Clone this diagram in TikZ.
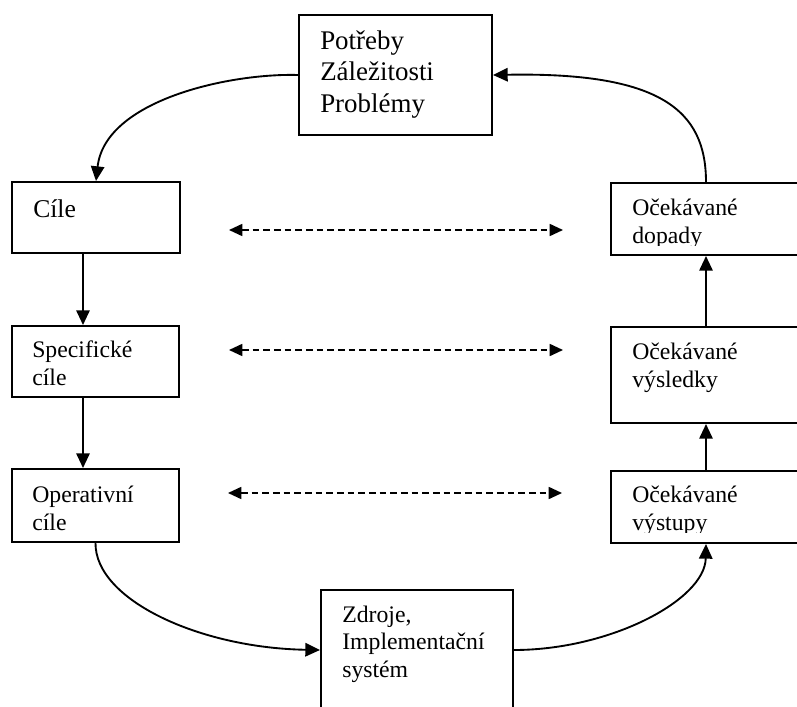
\documentclass[tikz,border=0pt]{standalone}
\usepackage{fontspec}
\setmainfont{Liberation Serif}
\usetikzlibrary{arrows.meta,fit}
\begin{document}
\begin{tikzpicture}[x=0.75pt,y=-0.75pt,
  box/.style={draw, line width=1.5pt, inner sep=0pt},
  txt/.style={anchor=base west, align=left, inner sep=0pt,
              font=\fontsize{17.8}{20.3}\selectfont},
  bigtxt/.style={txt, font=\fontsize{20.2}{23.3}\selectfont},
  arr/.style={-{Triangle[length=11pt,width=10pt]}, line width=1.4pt},
  darr/.style={{Triangle[length=10pt,width=9pt]}-{Triangle[length=10pt,width=9pt]},
               dash pattern=on 5pt off 3pt, line width=1.3pt}]
  \useasboundingbox (0,0) rectangle (797,707);
  \clip (0,0) rectangle (797,707);

  % boxes
  \node[box, fit={(299,15) (492,135)}] (need) {};
  \node[box, fit={(12,182) (180,253)}] (cile) {};
  \node[box, fit={(12,326) (179,397)}] (spec) {};
  \node[box, fit={(12,469) (179,542)}] (oper) {};
  \node[box, fit={(611,183) (801,255)}] (dopady) {};
  \node[box, fit={(611,327) (801,423)}] (vysl) {};
  \node[box, fit={(611,471) (801,543)}] (vystupy) {};
  \node[box, fit={(321,590) (513,710)}] (zdroje) {};

  % box texts (anchored at the baseline of their last line)
  \node[bigtxt] (needT) at (320,112) {Potřeby\\Záležitosti\\Problémy};
  \node[txt, font=\fontsize{19.2}{22}\selectfont] (cileT) at (33,217) {Cíle};
  \node[txt] (specT) at (32,385) {Specifické\\cíle};
  \node[txt] (operT) at (32,530) {Operativní\\cíle};
  \node[txt] (vyslT) at (632,387) {Očekávané\\výsledky};
  \node[txt] (zdrojeT) at (342,677) {Zdroje,\\Implementační\\systém};
  \begin{scope}
    \clip (611,183) rectangle (801,245);
    \node[txt] (dopadyT) at (632,243) {Očekávané\\dopady};
  \end{scope}
  \begin{scope}
    \clip (611,471) rectangle (801,532);
    \node[txt] (vystupyT) at (632,530) {Očekávané\\výstupy};
  \end{scope}

  % cycle connectors
  \draw[arr] (need.west) .. controls (230,73) and (105,100) .. (cile.north);
  \draw[arr] (cile.south -| 83,0) -- (spec.north -| 83,0);
  \draw[arr] (spec.south -| 83,0) -- (oper.north -| 83,0);
  \draw[arr] (oper.south) .. controls (95,600) and (200,648) .. (zdroje.west);
  \draw[arr] (zdroje.east) .. controls (610,650) and (705,600) .. (vystupy.south);
  \draw[arr] (vystupy.north) -- (vysl.south);
  \draw[arr] (vysl.north) -- (dopady.south);
  \draw[arr] (dopady.north) .. controls (706,110) and (660,72) .. (need.east);

  % correspondence arrows
  \coordinate (l1) at (229,230); \coordinate (r1) at (563,230);
  \coordinate (l2) at (229,350); \coordinate (r2) at (563,350);
  \coordinate (l3) at (228,493); \coordinate (r3) at (562,493);
  \draw[darr] (l1) -- (r1);
  \draw[darr] (l2) -- (r2);
  \draw[darr] (l3) -- (r3);
\end{tikzpicture}
\end{document}
